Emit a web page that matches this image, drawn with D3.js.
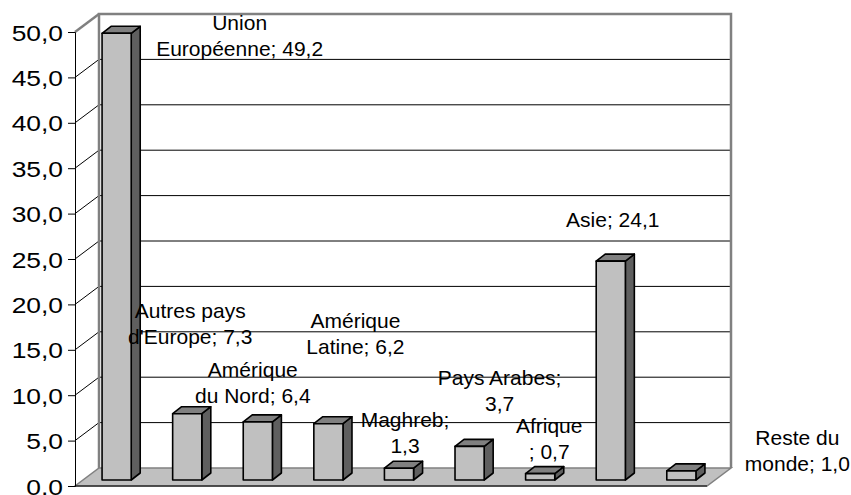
<html>
<head>
<meta charset="utf-8">
<script src="https://d3js.org/d3.v7.min.js"></script>
<style>
  body { margin: 0; background: #fff; }
  text { font-family: "Liberation Sans", Arial, sans-serif; fill: #000; }
</style>
</head>
<body>
<script>
// données
const categories = ["Union Européenne", "Autres pays d'Europe", "Amérique du Nord", "Amérique Latine",
  "Maghreb", "Pays Arabes", "Afrique", "Asie", "Reste du monde"];
const values = [49.2, 7.3, 6.4, 6.2, 1.3, 3.7, 0.7, 24.1, 1.0];
const labelLines = [
  ["Union", "Européenne; 49,2"],
  ["Autres pays", "d'Europe; 7,3"],
  ["Amérique", "du Nord; 6,4"],
  ["Amérique", "Latine; 6,2"],
  ["Maghreb;", "1,3"],
  ["Pays Arabes;", "3,7"],
  ["Afrique", "; 0,7"],
  ["Asie; 24,1"],
  ["Reste du", "monde; 1,0"]
];
const yTicks = [0, 5, 10, 15, 20, 25, 30, 35, 40, 45, 50];

// décalage des étiquettes par rapport au haut de la barre
const labelOffsets = [[123, -3], [3, -96], [-5, -45], [27, -96], [6, -41], [30, -61], [9, -41], [2, -34], [116, -26]];

const width = 851, height = 495;
const front = {left: 75, right: 707, bottom: 486, top: 32};
const depth = {dx: 24, dy: -18};     // profondeur du graphe
const barShift = {dx: 8, dy: -6};     // plan des barres
const barDepth = {dx: 9, dy: -7};     // épaisseur des barres

const svg = d3.select("body").append("svg")
  .attr("width", width).attr("height", height);

const y = d3.scaleLinear().domain([0, 50]).range([front.bottom, front.top]);
const x = d3.scaleBand().domain(categories).range([front.left, front.right])
  .paddingInner(0.587).paddingOuter(0.27);

const back = {left: front.left + depth.dx, right: front.right + depth.dx};

// mur du fond
svg.append("rect")
  .attr("x", back.left).attr("y", y(50) + depth.dy)
  .attr("width", back.right - back.left).attr("height", y(0) - y(50))
  .attr("fill", "#fff");

// grille
const grid = svg.append("g");
yTicks.filter(t => t > 0 && t < 50).forEach(t => {
  grid.append("line")
    .attr("x1", back.left).attr("x2", back.right)
    .attr("y1", y(t) + depth.dy).attr("y2", y(t) + depth.dy)
    .attr("stroke", "#000").attr("stroke-width", 1);
  grid.append("line")
    .attr("x1", front.left).attr("x2", back.left)
    .attr("y1", y(t)).attr("y2", y(t) + depth.dy)
    .attr("stroke", "#000").attr("stroke-width", 1);
});

// sol
svg.append("path")
  .attr("d", `M${front.left},${y(0)}L${front.right},${y(0)}L${back.right},${y(0) + depth.dy}L${back.left},${y(0) + depth.dy}Z`)
  .attr("fill", "#c0c0c0")
  .attr("stroke", "#808080").attr("stroke-width", 1.5);

// bords des murs
const wallEdge = svg.append("g").attr("fill", "none").attr("stroke", "#808080").attr("stroke-width", 2.5);
wallEdge.append("path")
  .attr("d", `M${back.left},${y(0) + depth.dy}L${back.left},${y(50) + depth.dy}L${back.right},${y(50) + depth.dy}L${back.right},${y(0) + depth.dy}`);
wallEdge.append("line")
  .attr("x1", front.left).attr("y1", y(50))
  .attr("x2", back.left).attr("y2", y(50) + depth.dy);

// axe
const fmt = d => d3.format(".1f")(d).replace(".", ",");
const axis = svg.append("g")
  .attr("transform", `translate(${front.left},0)`)
  .call(d3.axisLeft(y).tickValues(yTicks).tickSize(7).tickFormat(fmt));
axis.select(".domain").attr("stroke", "#000").attr("stroke-width", 1);
axis.selectAll(".tick line").attr("stroke", "#000");
axis.selectAll(".tick text")
  .attr("x", -10).attr("dy", "0.37em")
  .attr("font-size", 22)
  .attr("font-family", "Liberation Sans, Arial, sans-serif")
  .attr("transform", "scale(1.2,1)");
svg.append("line")
  .attr("x1", front.left).attr("x2", front.right)
  .attr("y1", y(0)).attr("y2", y(0))
  .attr("stroke", "#000").attr("stroke-width", 1.2);

// barres 3D
const bars = svg.append("g").selectAll("g")
  .data(categories.map((c, i) => ({c, v: values[i], i})))
  .join("g")
  .attr("stroke", "#000").attr("stroke-width", 1.6).attr("stroke-linejoin", "round");

const bx0 = d => x(d.c) + barShift.dx;
const bx1 = d => bx0(d) + x.bandwidth();
const by0 = () => y(0) + barShift.dy;
const by1 = d => y(d.v) + barShift.dy;

bars.append("path")  // côté
  .attr("fill", "#5f5f5f")
  .attr("d", d => `M${bx1(d)},${by0()}L${bx1(d) + barDepth.dx},${by0() + barDepth.dy}L${bx1(d) + barDepth.dx},${by1(d) + barDepth.dy}L${bx1(d)},${by1(d)}Z`);
bars.append("path")  // dessus
  .attr("fill", "#808080")
  .attr("d", d => `M${bx0(d)},${by1(d)}L${bx0(d) + barDepth.dx},${by1(d) + barDepth.dy}L${bx1(d) + barDepth.dx},${by1(d) + barDepth.dy}L${bx1(d)},${by1(d)}Z`);
bars.append("rect")  // face
  .attr("fill", "#c0c0c0")
  .attr("x", bx0).attr("y", by1)
  .attr("width", x.bandwidth()).attr("height", d => by0() - by1(d));

// étiquettes
const labels = svg.append("g").selectAll("text")
  .data(categories.map((c, i) => ({c, v: values[i], i})))
  .join("text")
  .attr("font-size", 21)
  .attr("text-anchor", "middle")
  .attr("x", d => bx0(d) + x.bandwidth() / 2 + labelOffsets[d.i][0])
  .attr("y", d => by1(d) + labelOffsets[d.i][1]);
labels.selectAll("tspan")
  .data(d => labelLines[d.i].map(t => ({t, x: bx0(d) + x.bandwidth() / 2 + labelOffsets[d.i][0]})))
  .join("tspan")
  .attr("x", t => t.x)
  .attr("dy", (t, j) => j === 0 ? 0 : 26)
  .text(t => t.t);
</script>
</body>
</html>
